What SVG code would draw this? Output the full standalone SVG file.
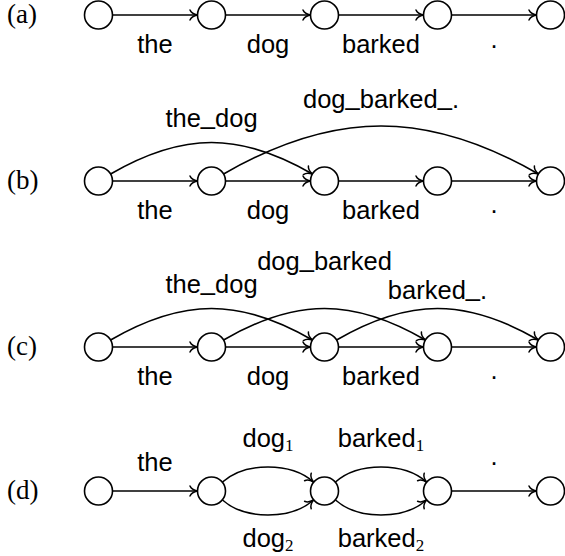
<svg xmlns="http://www.w3.org/2000/svg" width="565" height="556" viewBox="0 0 565 556">
<style>
.n{fill:#fff;stroke:#000;stroke-width:1.6}
.e{fill:none;stroke:#000;stroke-width:1.6;marker-end:url(#ah)}
.t{font-family:"Liberation Sans",Arial,sans-serif;font-size:25.5px;text-anchor:middle;fill:#000}
.r{font-family:"Liberation Serif","Times New Roman",serif;font-size:27px;fill:#000}
.s{font-family:"Liberation Serif","Times New Roman",serif;font-size:17px}
</style>
<defs>
<marker id="ah" markerUnits="userSpaceOnUse" markerWidth="12" markerHeight="12" viewBox="-8 -6 10 12" refX="0" refY="0" orient="auto" overflow="visible">
<path d="M-7.5,-5 C-6.3,-2.1 -2,-0.4 0,0 C-2,0.4 -6.3,2.1 -7.5,5" fill="none" stroke="#000" stroke-width="1.5" stroke-linecap="round"/>
</marker>
</defs>
<g id="connectors">
<path class="e" d="M112.5,15 H197.5"/>
<path class="e" d="M225.5,15 H310.5"/>
<path class="e" d="M338.5,15 H423.5"/>
<path class="e" d="M451.5,15 H536.5"/>
<path class="e" d="M112.5,181 H197.5"/>
<path class="e" d="M225.5,181 H310.5"/>
<path class="e" d="M338.5,181 H423.5"/>
<path class="e" d="M451.5,181 H536.5"/>
<path class="e" d="M110.6,174 C183,132 240,132 312.4,174"/>
<path class="e" d="M223.6,174 C334.6,110 427.4,110 538.4,174"/>
<path class="e" d="M112.5,347 H197.5"/>
<path class="e" d="M225.5,347 H310.5"/>
<path class="e" d="M338.5,347 H423.5"/>
<path class="e" d="M451.5,347 H536.5"/>
<path class="e" d="M110.6,340 C183,298 240,298 312.4,340"/>
<path class="e" d="M223.6,340 C296,298 353,298 425.4,340"/>
<path class="e" d="M336.6,340 C409,298 466,298 538.4,340"/>
<path class="e" d="M112.5,491 H197.5"/>
<path class="e" d="M451.5,491 H536.5"/>
<path class="e" d="M222.5,482 C245,462 291,462 313.5,482"/>
<path class="e" d="M222.5,500 C245,520 291,520 313.5,500"/>
<path class="e" d="M335.5,482 C358,462 404,462 426.5,482"/>
<path class="e" d="M335.5,500 C358,520 404,520 426.5,500"/>
</g>
<g id="row-a">
<text class="r" x="7" y="23">(a)</text>
<circle id="a0" class="n" cx="98.5" cy="15" r="14"/>
<circle id="a1" class="n" cx="211.5" cy="15" r="14"/>
<circle id="a2" class="n" cx="324.5" cy="15" r="14"/>
<circle id="a3" class="n" cx="437.5" cy="15" r="14"/>
<circle id="a4" class="n" cx="550.5" cy="15" r="14"/>
<text class="t" x="155" y="53">the</text>
<text class="t" x="268" y="53">dog</text>
<text class="t" x="381" y="53">barked</text>
<text class="t" x="494" y="48">.</text>
</g>
<g id="row-b">
<text class="r" x="7" y="189">(b)</text>
<circle id="b0" class="n" cx="98.5" cy="181" r="14"/>
<circle id="b1" class="n" cx="211.5" cy="181" r="14"/>
<circle id="b2" class="n" cx="324.5" cy="181" r="14"/>
<circle id="b3" class="n" cx="437.5" cy="181" r="14"/>
<circle id="b4" class="n" cx="550.5" cy="181" r="14"/>
<text class="t" x="155" y="219">the</text>
<text class="t" x="268" y="219">dog</text>
<text class="t" x="381" y="219">barked</text>
<text class="t" x="494" y="213">.</text>
<text class="t" x="211.5" y="127">the<tspan dy="-3">_</tspan><tspan dy="3">dog</tspan></text>
<text class="t" x="381" y="108">dog<tspan dy="-3">_</tspan><tspan dy="3">barked</tspan><tspan dy="-3">_</tspan><tspan dy="3">.</tspan></text>
</g>
<g id="row-c">
<text class="r" x="7" y="355">(c)</text>
<circle id="c0" class="n" cx="98.5" cy="347" r="14"/>
<circle id="c1" class="n" cx="211.5" cy="347" r="14"/>
<circle id="c2" class="n" cx="324.5" cy="347" r="14"/>
<circle id="c3" class="n" cx="437.5" cy="347" r="14"/>
<circle id="c4" class="n" cx="550.5" cy="347" r="14"/>
<text class="t" x="155" y="385">the</text>
<text class="t" x="268" y="385">dog</text>
<text class="t" x="381" y="385">barked</text>
<text class="t" x="494" y="379">.</text>
<text class="t" x="324.5" y="270">dog<tspan dy="-3">_</tspan><tspan dy="3">barked</tspan></text>
<text class="t" x="211.5" y="293">the<tspan dy="-3">_</tspan><tspan dy="3">dog</tspan></text>
<text class="t" x="437.5" y="299">barked<tspan dy="-3">_</tspan><tspan dy="3">.</tspan></text>
</g>
<g id="row-d">
<text class="r" x="7" y="499">(d)</text>
<circle id="d0" class="n" cx="98.5" cy="491" r="14"/>
<circle id="d1" class="n" cx="211.5" cy="491" r="14"/>
<circle id="d2" class="n" cx="324.5" cy="491" r="14"/>
<circle id="d3" class="n" cx="437.5" cy="491" r="14"/>
<circle id="d4" class="n" cx="550.5" cy="491" r="14"/>
<text class="t" x="155" y="471">the</text>
<text class="t" x="494" y="465">.</text>
<text class="t" x="268" y="447">dog<tspan class="s" dy="4">1</tspan></text>
<text class="t" x="381" y="447">barked<tspan class="s" dy="4">1</tspan></text>
<text class="t" x="268" y="547">dog<tspan class="s" dy="4">2</tspan></text>
<text class="t" x="381" y="547">barked<tspan class="s" dy="4">2</tspan></text>
</g>
</svg>
